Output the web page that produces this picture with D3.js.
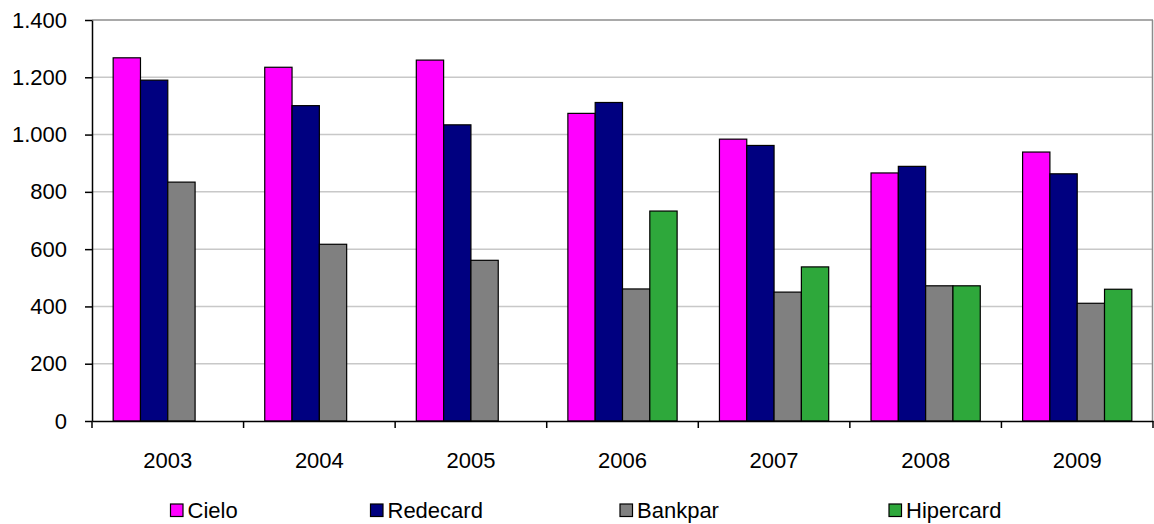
<!DOCTYPE html>
<html>
<head>
<meta charset="utf-8">
<script src="https://cdn.jsdelivr.net/npm/d3@7"></script>
<style>
  body { margin: 0; background: #fff; }
  svg { display: block; font-family: "Liberation Sans", Arial, sans-serif; }
</style>
</head>
<body>
<svg id="chart"></svg>
<script>
// data
const years = ["2003", "2004", "2005", "2006", "2007", "2008", "2009"];
const seriesNames = ["Cielo", "Redecard", "Bankpar", "Hipercard"];
const cielo = [1268, 1235, 1260, 1074, 984, 866, 939];
const redecard = [1190, 1101, 1034, 1112, 962, 889, 863];
const bankpar = [834, 617, 561, 461, 450, 472, 411];
const hipercard = [null, null, null, 733, 538, 472, 460];
const yTicks = [0, 200, 400, 600, 800, 1000, 1200, 1400];

const colors = {
    Cielo: "#ff00ff",
    Redecard: "#000080",
    Bankpar: "#808080",
    Hipercard: "#2ea83b"
};

const values = {Cielo: cielo, Redecard: redecard, Bankpar: bankpar, Hipercard: hipercard};

const W = 1154, H = 524;
const margin = {left: 92, right: 1, top: 20, bottom: 103};

const svg = d3.select("#chart")
    .attr("width", W)
    .attr("height", H);

const x = d3.scaleBand()
    .domain(years)
    .range([margin.left, W - margin.right])
    .padding(0);

const xInner = d3.scaleBand()
    .domain(seriesNames)
    .range([0, x.bandwidth()])
    .paddingInner(0)
    .paddingOuter(0.775);

const y = d3.scaleLinear()
    .domain([0, 1400])
    .range([H - margin.bottom, margin.top]);

const ptBR = d3.formatLocale({decimal: ",", thousands: ".", grouping: [3], currency: ["", ""]});
const fmt = ptBR.format(",");

// gridlines
svg.append("g")
    .selectAll("line")
    .data(yTicks.filter(d => d > 0))
    .enter()
    .append("line")
    .attr("x1", margin.left)
    .attr("x2", W - margin.right)
    .attr("y1", d => y(d))
    .attr("y2", d => y(d))
    .attr("stroke", d => d === 1400 ? "#8c8c8c" : "#c8c8c8")
    .attr("stroke-width", 1.5);

// right border of plot area
svg.append("line")
    .attr("x1", W - margin.right - 0.5)
    .attr("x2", W - margin.right - 0.5)
    .attr("y1", y(1400))
    .attr("y2", y(0))
    .attr("stroke", "#8c8c8c")
    .attr("stroke-width", 1.5);

// bars
const rows = [];
years.forEach((yr, i) => {
    seriesNames.forEach(s => {
        if (values[s][i] != null) rows.push({year: yr, series: s, value: values[s][i]});
    });
});

svg.append("g")
    .selectAll("rect")
    .data(rows)
    .enter()
    .append("rect")
    .attr("x", d => x(d.year) + xInner(d.series))
    .attr("y", d => y(d.value))
    .attr("width", xInner.bandwidth())
    .attr("height", d => y(0) - y(d.value))
    .attr("fill", d => colors[d.series])
    .attr("stroke", "#000")
    .attr("stroke-width", 1.2);

// y axis
const yAxis = svg.append("g")
    .attr("transform", `translate(${margin.left}, 0)`)
    .call(d3.axisLeft(y).tickValues(yTicks).tickFormat(fmt).tickSize(7).tickPadding(18).tickSizeOuter(0));
yAxis.select(".domain").attr("stroke", "#000").attr("stroke-width", 1.5);
yAxis.selectAll(".tick line").attr("stroke", "#000").attr("stroke-width", 1.5);
yAxis.selectAll("text")
    .attr("font-size", "22px")
    .attr("font-family", "Liberation Sans, Arial, sans-serif")
    .attr("fill", "#000");

// x axis: labels at centres, ticks at category edges
const xAxis = svg.append("g")
    .attr("transform", `translate(0, ${y(0)})`)
    .call(d3.axisBottom(x).tickSize(0).tickPadding(31).tickSizeOuter(0));
xAxis.select(".domain").attr("stroke", "#000").attr("stroke-width", 1.5);
xAxis.selectAll("text")
    .attr("font-size", "22px")
    .attr("font-family", "Liberation Sans, Arial, sans-serif")
    .attr("fill", "#000");

const edges = years.map(d => x(d)).concat([x(years[years.length - 1]) + x.bandwidth()]);
xAxis.selectAll(".edge")
    .data(edges)
    .enter()
    .append("line")
    .attr("class", "edge")
    .attr("x1", d => d)
    .attr("x2", d => d)
    .attr("y1", 0)
    .attr("y2", 7)
    .attr("stroke", "#000")
    .attr("stroke-width", 1.5);

// legend
const legendX = [170.5, 370.5, 620, 889];
const legend = svg.append("g")
    .selectAll("g")
    .data(seriesNames)
    .enter()
    .append("g")
    .attr("transform", (d, i) => `translate(${legendX[i]}, 504)`);

legend.append("rect")
    .attr("width", 12.5)
    .attr("height", 12.5)
    .attr("fill", d => colors[d])
    .attr("stroke", "#000")
    .attr("stroke-width", 1.2);

legend.append("text")
    .attr("x", 17)
    .attr("y", 14)
    .attr("font-size", "22px")
    .attr("fill", "#000")
    .text(d => d);
</script>
</body>
</html>
